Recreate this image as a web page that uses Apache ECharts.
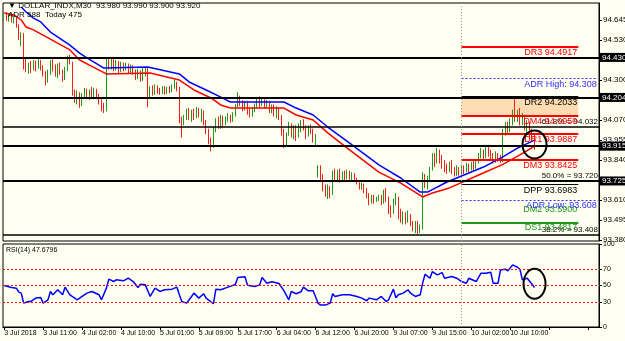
<!DOCTYPE html>
<html>
<head>
<meta charset="utf-8">
<script src="https://cdn.jsdelivr.net/npm/echarts@6/dist/echarts.min.js"></script>
<style>
html, body { margin: 0; padding: 0; background: #fffff2; }
#chart { width: 625px; height: 341px; }
</style>
</head>
<body>
<div id="chart"></div>
<script>
// time axis: one label every 16 bars (M30)
const tickLabels = ['3 Jul 2018', '3 Jul 11:00', '4 Jul 02:00', '4 Jul 10:00', '5 Jul 01:00', '5 Jul 09:00',
    '5 Jul 17:00', '6 Jul 04:00', '6 Jul 12:00', '6 Jul 20:00', '9 Jul 07:00', '9 Jul 15:00', '10 Jul 02:00', '10 Jul 10:00']
const labelEvery = 16
const totalBars = 245
const dayStart = 188
const levelEnd = 236

const priceTicks = [94.645, 94.530, 94.300, 94.070, 93.955, 93.840, 93.610, 93.495, 93.380]
const boxLevels = [94.430, 94.204, 93.915, 93.725]
const fibLevels = [['61.8%', 94.032], ['50.0%', 93.720], ['38.2%', 93.408]]
const pivots = [['DR3', 94.4917], ['DR2', 94.2033], ['DM4', 94.0950], ['DR1', 93.9887],
    ['DM3', 93.8425], ['DPP', 93.6983], ['DM2', 93.5900], ['DS1', 93.4817]]
const adrHigh = 94.308
const adrLow = 93.608
const adrInfo = 'ADR 588  Today 475'
const rsiTicks = [0, 30, 50, 70, 100]
const rsiLevels = [70, 50, 30]
const rsiLast = 47.6796

// [open, close, low, high]
const candles = [
    [94.660, 94.680, 94.650, 94.690], [94.680, 94.650, 94.640, 94.690], [94.650, 94.670, 94.635, 94.680], [94.670, 94.640, 94.630, 94.680],
    [94.640, 94.655, 94.625, 94.665], [94.655, 94.610, 94.600, 94.665], [94.610, 94.540, 94.530, 94.620], [94.540, 94.565, 94.495, 94.575],
    [94.565, 94.380, 94.360, 94.570], [94.380, 94.350, 94.345, 94.430], [94.350, 94.390, 94.335, 94.400], [94.390, 94.370, 94.340, 94.410],
    [94.370, 94.400, 94.355, 94.415], [94.400, 94.380, 94.350, 94.410], [94.380, 94.405, 94.365, 94.420], [94.405, 94.370, 94.355, 94.415],
    [94.370, 94.340, 94.320, 94.385], [94.340, 94.300, 94.270, 94.350], [94.300, 94.340, 94.285, 94.360], [94.340, 94.400, 94.330, 94.415],
    [94.400, 94.370, 94.350, 94.425], [94.370, 94.330, 94.320, 94.390], [94.330, 94.380, 94.310, 94.395], [94.380, 94.340, 94.330, 94.400],
    [94.340, 94.310, 94.290, 94.360], [94.310, 94.360, 94.300, 94.375], [94.360, 94.420, 94.350, 94.440], [94.420, 94.400, 94.390, 94.445],
    [94.400, 94.230, 94.210, 94.405], [94.230, 94.190, 94.170, 94.245], [94.190, 94.220, 94.160, 94.240], [94.220, 94.170, 94.140, 94.230],
    [94.170, 94.210, 94.150, 94.225], [94.210, 94.240, 94.195, 94.255], [94.240, 94.200, 94.190, 94.250], [94.200, 94.230, 94.185, 94.245],
    [94.230, 94.215, 94.195, 94.260], [94.215, 94.245, 94.200, 94.255], [94.245, 94.210, 94.190, 94.250], [94.210, 94.180, 94.160, 94.220],
    [94.180, 94.150, 94.120, 94.190], [94.150, 94.130, 94.110, 94.170], [94.130, 94.400, 94.120, 94.430], [94.400, 94.380, 94.360, 94.425],
    [94.380, 94.410, 94.360, 94.430], [94.410, 94.370, 94.350, 94.420], [94.370, 94.400, 94.355, 94.415], [94.400, 94.360, 94.340, 94.410],
    [94.360, 94.390, 94.345, 94.405], [94.390, 94.370, 94.350, 94.400], [94.370, 94.385, 94.355, 94.400], [94.385, 94.350, 94.335, 94.395],
    [94.350, 94.375, 94.340, 94.390], [94.375, 94.345, 94.330, 94.385], [94.345, 94.320, 94.300, 94.360], [94.320, 94.350, 94.305, 94.365],
    [94.350, 94.310, 94.290, 94.355], [94.310, 94.340, 94.295, 94.370], [94.340, 94.360, 94.320, 94.375], [94.360, 94.230, 94.145, 94.370],
    [94.230, 94.250, 94.200, 94.265], [94.250, 94.225, 94.210, 94.270], [94.225, 94.260, 94.215, 94.275], [94.260, 94.240, 94.220, 94.270],
    [94.240, 94.235, 94.215, 94.255], [94.235, 94.255, 94.220, 94.265], [94.255, 94.230, 94.215, 94.265], [94.230, 94.250, 94.220, 94.260],
    [94.250, 94.240, 94.225, 94.265], [94.240, 94.265, 94.230, 94.275], [94.265, 94.280, 94.250, 94.300], [94.280, 94.250, 94.235, 94.290],
    [94.250, 94.070, 94.050, 94.260], [94.070, 94.050, 93.970, 94.090], [94.050, 94.090, 94.040, 94.100], [94.090, 94.120, 94.070, 94.135],
    [94.120, 94.080, 94.070, 94.140], [94.080, 94.110, 94.060, 94.130], [94.110, 94.090, 94.070, 94.135], [94.090, 94.130, 94.080, 94.145],
    [94.130, 94.100, 94.085, 94.140], [94.100, 94.120, 94.060, 94.135], [94.120, 94.060, 94.040, 94.125], [94.060, 94.010, 93.990, 94.070],
    [94.010, 93.950, 93.930, 94.020], [93.950, 93.920, 93.890, 93.970], [93.920, 94.020, 93.910, 94.030], [94.020, 94.070, 94.000, 94.080],
    [94.070, 94.040, 94.020, 94.090], [94.040, 94.080, 94.020, 94.100], [94.080, 94.050, 94.030, 94.095], [94.050, 94.075, 94.040, 94.090],
    [94.075, 94.090, 94.060, 94.110], [94.090, 94.070, 94.055, 94.100], [94.070, 94.100, 94.060, 94.115], [94.100, 94.150, 94.090, 94.160],
    [94.150, 94.190, 94.140, 94.230], [94.190, 94.170, 94.150, 94.210], [94.170, 94.140, 94.120, 94.185], [94.140, 94.170, 94.125, 94.180],
    [94.170, 94.120, 94.100, 94.180], [94.120, 94.100, 94.085, 94.140], [94.100, 94.130, 94.090, 94.145], [94.130, 94.150, 94.115, 94.165],
    [94.150, 94.190, 94.140, 94.200], [94.190, 94.160, 94.140, 94.205], [94.160, 94.180, 94.150, 94.195], [94.180, 94.150, 94.135, 94.190],
    [94.150, 94.170, 94.140, 94.185], [94.170, 94.130, 94.110, 94.180], [94.130, 94.150, 94.110, 94.160], [94.150, 94.110, 94.090, 94.160],
    [94.110, 94.130, 94.080, 94.150], [94.130, 94.090, 94.070, 94.140], [94.090, 94.000, 93.980, 94.100], [94.000, 93.930, 93.910, 94.020],
    [93.930, 93.990, 93.920, 94.000], [93.990, 94.040, 93.980, 94.060], [94.040, 93.990, 93.970, 94.050], [93.990, 94.030, 93.960, 94.040],
    [94.030, 93.980, 93.950, 94.040], [93.980, 94.020, 93.970, 94.050], [94.020, 94.060, 94.000, 94.070], [94.060, 94.030, 94.010, 94.075],
    [94.030, 93.990, 93.960, 94.040], [93.990, 94.030, 93.975, 94.040], [94.030, 94.000, 93.990, 94.045], [94.000, 93.960, 93.940, 94.020],
    [93.960, 93.980, 93.920, 93.990], [93.780, 93.800, 93.740, 93.810], [93.800, 93.740, 93.720, 93.810], [93.740, 93.690, 93.660, 93.760],
    [93.690, 93.660, 93.630, 93.700], [93.660, 93.680, 93.615, 93.700], [93.680, 93.650, 93.620, 93.690], [93.650, 93.760, 93.640, 93.780],
    [93.760, 93.740, 93.720, 93.790], [93.740, 93.770, 93.720, 93.785], [93.770, 93.730, 93.710, 93.790], [93.730, 93.760, 93.720, 93.775],
    [93.760, 93.745, 93.725, 93.780], [93.745, 93.770, 93.730, 93.785], [93.770, 93.740, 93.725, 93.780], [93.740, 93.755, 93.720, 93.770],
    [93.755, 93.730, 93.715, 93.765], [93.730, 93.720, 93.700, 93.740], [93.720, 93.690, 93.670, 93.725], [93.690, 93.700, 93.670, 93.710],
    [93.700, 93.670, 93.650, 93.705], [93.670, 93.640, 93.620, 93.680], [93.640, 93.600, 93.580, 93.650], [93.600, 93.630, 93.590, 93.640],
    [93.630, 93.610, 93.590, 93.640], [93.610, 93.620, 93.600, 93.630], [93.620, 93.630, 93.605, 93.640], [93.630, 93.600, 93.580, 93.640],
    [93.600, 93.660, 93.590, 93.670], [93.660, 93.620, 93.600, 93.680], [93.620, 93.560, 93.530, 93.630], [93.560, 93.540, 93.510, 93.580],
    [93.540, 93.600, 93.530, 93.620], [93.600, 93.620, 93.580, 93.650], [93.620, 93.540, 93.500, 93.630], [93.540, 93.500, 93.480, 93.560],
    [93.500, 93.530, 93.470, 93.545], [93.530, 93.490, 93.470, 93.540], [93.490, 93.520, 93.480, 93.550], [93.520, 93.480, 93.460, 93.530],
    [93.480, 93.450, 93.430, 93.490], [93.450, 93.480, 93.420, 93.490], [93.480, 93.440, 93.415, 93.490], [93.440, 93.460, 93.420, 93.470],
    [93.460, 93.740, 93.440, 93.770], [93.740, 93.700, 93.680, 93.760], [93.700, 93.730, 93.670, 93.750], [93.730, 93.790, 93.720, 93.800],
    [93.790, 93.860, 93.780, 93.880], [93.860, 93.830, 93.800, 93.880], [93.830, 93.880, 93.820, 93.910], [93.880, 93.850, 93.820, 93.900],
    [93.850, 93.820, 93.790, 93.870], [93.820, 93.800, 93.770, 93.840], [93.800, 93.780, 93.760, 93.820], [93.780, 93.810, 93.770, 93.830],
    [93.810, 93.790, 93.760, 93.840], [93.790, 93.760, 93.745, 93.800], [93.760, 93.790, 93.750, 93.810], [93.790, 93.770, 93.750, 93.800],
    [93.770, 93.800, 93.760, 93.815], [93.800, 93.780, 93.760, 93.810], [93.780, 93.810, 93.770, 93.825], [93.810, 93.790, 93.770, 93.820],
    [93.790, 93.820, 93.780, 93.830], [93.820, 93.800, 93.780, 93.835], [93.800, 93.830, 93.790, 93.840], [93.830, 93.870, 93.820, 93.880],
    [93.870, 93.890, 93.850, 93.910], [93.890, 93.860, 93.840, 93.900], [93.860, 93.900, 93.850, 93.915], [93.900, 93.880, 93.860, 93.920],
    [93.880, 93.860, 93.840, 93.900], [93.860, 93.840, 93.820, 93.880], [93.840, 93.870, 93.825, 93.890], [93.870, 93.850, 93.830, 93.880],
    [93.850, 93.845, 93.825, 93.870], [93.845, 94.000, 93.830, 94.020], [94.000, 94.040, 93.980, 94.060], [94.040, 94.010, 93.990, 94.060],
    [94.010, 94.060, 94.000, 94.080], [94.060, 94.110, 94.040, 94.130], [94.110, 94.080, 94.060, 94.200], [94.080, 94.110, 94.060, 94.130],
    [94.110, 94.060, 94.040, 94.140], [94.060, 94.090, 94.040, 94.110], [94.090, 94.030, 94.010, 94.100], [94.030, 94.050, 93.990, 94.070],
    [94.050, 94.000, 93.960, 94.060], [94.000, 93.980, 93.950, 94.020], [93.980, 93.920, 93.900, 93.990]
]

// moving averages: [bar, price]
const maRed = [[0, 94.685], [4, 94.674], [7, 94.645], [9, 94.605], [12, 94.588], [18, 94.542], [27, 94.473], [31, 94.415],
    [35, 94.386], [42, 94.335], [60, 94.340], [72, 94.300], [78, 94.243], [85, 94.197], [89, 94.157], [93, 94.139],
    [115, 94.139], [120, 94.099], [127, 94.070], [133, 93.996], [141, 93.909], [154, 93.771], [163, 93.708], [172, 93.628],
    [176, 93.651], [183, 93.680], [196, 93.760], [205, 93.815], [212, 93.870], [218, 93.920]]
const maBlue = [[7, 94.720], [9, 94.691], [12, 94.656], [15, 94.634], [19, 94.576], [27, 94.501], [31, 94.455], [34, 94.427],
    [41, 94.369], [59, 94.375], [72, 94.335], [76, 94.289], [83, 94.243], [89, 94.202], [93, 94.174], [115, 94.174],
    [120, 94.139], [127, 94.099], [133, 94.030], [142, 93.938], [154, 93.812], [163, 93.737], [171, 93.656], [174, 93.656],
    [182, 93.714], [197, 93.800], [205, 93.858], [211, 93.909], [218, 93.955]]

const rsi = [[0, 50], [3, 47.6], [5, 46.8], [6, 42], [7, 40.8], [8, 28.8], [10, 30.8], [11, 30.8], [13, 34.8], [15, 35.6],
    [16, 28.8], [18, 32.8], [19, 42.8], [20, 38.8], [22, 44.8], [24, 38.8], [25, 48], [27, 38.8], [29, 34.8], [30, 32.8],
    [32, 36.8], [34, 40.8], [36, 42.8], [39, 38.8], [40, 32.8], [42, 46.8], [43, 57.6], [45, 54.8], [46, 56.8], [49, 55.6],
    [51, 58.8], [53, 54.8], [55, 47.6], [56, 51.6], [58, 50.8], [60, 36.8], [62, 46.8], [64, 42.8], [66, 44.8], [69, 45.6],
    [71, 48], [72, 38.8], [73, 30.8], [75, 28.8], [77, 36.8], [78, 40.8], [80, 34.8], [82, 40], [83, 34.8], [86, 28],
    [87, 45.6], [89, 44.8], [92, 48], [95, 51.2], [96, 59.6], [99, 60.4], [100, 50.4], [103, 48.8], [105, 50.8], [106, 59.6],
    [108, 52.8], [110, 54.4], [113, 52.4], [115, 43.6], [117, 32.8], [118, 42.8], [120, 40], [122, 42.4], [123, 48], [125, 43.6],
    [127, 43.6], [129, 28.8], [130, 26.4], [132, 26.4], [134, 28.8], [135, 40], [136, 36.8], [139, 38.8], [142, 38.8], [145, 36.8],
    [147, 34.8], [149, 31.6], [150, 34.8], [153, 32.8], [155, 36.8], [157, 30.8], [158, 32.8], [160, 45.6], [161, 35.2], [162, 38.8],
    [164, 40.8], [166, 44.8], [167, 40.8], [169, 36.8], [171, 38.8], [172, 52.8], [173, 63.6], [175, 58.8], [176, 66.8], [178, 62.8],
    [180, 65.6], [181, 58.8], [184, 60.8], [186, 58.8], [188, 54.8], [190, 52.8], [191, 58.8], [194, 54.8], [196, 64.8], [198, 64.8],
    [200, 66], [201, 52.8], [203, 52.8], [204, 68.8], [206, 69.6], [207, 67.6], [209, 74.8], [211, 72], [212, 69.6], [213, 56.8],
    [215, 58.8], [218, rsiLast]]

const categories = []
for (let i = 0; i < totalBars; i++) categories.push(String(i))

const FONT = 'Liberation Sans'
const last = candles[candles.length - 1]

const chart = echarts.init(document.getElementById('chart'))

const mainLines = []
boxLevels.forEach(v => mainLines.push({
    yAxis: v,
    lineStyle: { color: '#000', width: 2, type: 'solid' },
    label: { show: true, position: 'end', distance: 1, formatter: v.toFixed(3), color: '#fff',
        backgroundColor: '#000', padding: [1, 2, 0, 2], fontSize: 8, fontFamily: FONT }
}))
fibLevels.forEach(([pct, v]) => mainLines.push({
    yAxis: v,
    lineStyle: { color: '#000', width: pct === '50.0%' ? 2 : 1.5, type: 'solid' },
    label: { show: true, position: 'insideEndTop', distance: 1, formatter: pct + ' = ' + v.toFixed(3),
        color: '#000', fontSize: 8, fontFamily: FONT }
}))
pivots.forEach(([name, v]) => {
    const isRes = name === 'DR3' || name === 'DM4' || name === 'DR1' || name === 'DM3'
    const isSup = name === 'DS1' || name === 'DM2'
    const col = isRes ? '#ff0000' : isSup ? '#1a9a1a' : '#000'
    const lineCol = name === 'DM2' ? 'rgba(0,0,0,0)' : name === 'DR2' ? '#000' : col
    mainLines.push([
        { coord: [dayStart, v],
          lineStyle: { color: lineCol, width: name === 'DPP' ? 1 : 2, type: 'solid' },
          label: { show: true, position: 'insideEndBottom', distance: 1, formatter: name + ' ' + v.toFixed(4),
              color: col, fontSize: 9, fontFamily: FONT } },
        { coord: [levelEnd, v] }
    ])
})
;[['ADR High', adrHigh], ['ADR Low', adrLow]].forEach(([name, v]) => mainLines.push([
    { coord: [dayStart, v],
      lineStyle: { color: '#3030ff', width: 1, type: [2, 2] },
      label: { show: true, position: 'insideEndBottom', distance: 1, formatter: name + ': ' + v.toFixed(3),
          color: '#3030ff', fontSize: 9, fontFamily: FONT } },
    { coord: [totalBars - 1, v] }
]))
mainLines.push({ xAxis: dayStart, lineStyle: { color: '#999', width: 1, type: [1, 2] }, label: { show: false } })

chart.setOption({
    animation: false,
    backgroundColor: '#fffff2',
    grid: [
        { left: 3, right: 26, top: 3, height: 238, show: true, borderColor: '#000', borderWidth: 1,
          backgroundColor: '#fffff2', outerBoundsMode: 'none' },
        { left: 3, right: 26, top: 244, height: 83, show: true, borderColor: '#000', borderWidth: 1,
          backgroundColor: '#fffff2', outerBoundsMode: 'none' }
    ],
    xAxis: [
        { type: 'category', gridIndex: 0, data: categories, boundaryGap: true,
          axisLine: { show: false }, axisTick: { show: false }, axisLabel: { show: false }, splitLine: { show: false } },
        { type: 'category', gridIndex: 1, data: categories, boundaryGap: true,
          axisLine: { show: true, lineStyle: { color: '#000' } },
          axisTick: { show: true, interval: labelEvery - 1, alignWithLabel: true, length: 3, lineStyle: { color: '#000' } },
          axisLabel: { show: true, interval: labelEvery - 1, align: 'left', margin: 3, fontSize: 7, fontFamily: FONT, color: '#000',
              formatter: (val) => tickLabels[Math.round(Number(val) / labelEvery)] || '' },
          splitLine: { show: false } }
    ],
    yAxis: [
        { type: 'value', gridIndex: 0, position: 'right', min: 93.375, max: 94.7427, scale: true,
          axisLine: { show: true, lineStyle: { color: '#000' } },
          axisTick: { show: true, length: 3, customValues: priceTicks, lineStyle: { color: '#000' } },
          axisLabel: { show: true, customValues: priceTicks, margin: 4, fontSize: 8, fontFamily: FONT, color: '#000',
              formatter: v => v.toFixed(3) },
          splitLine: { show: false } },
        { type: 'value', gridIndex: 1, position: 'right', min: 0, max: 100,
          axisLine: { show: true, lineStyle: { color: '#000' } },
          axisTick: { show: true, length: 3, customValues: rsiTicks, lineStyle: { color: '#000' } },
          axisLabel: { show: true, customValues: rsiTicks, margin: 4, fontSize: 7, fontFamily: FONT, color: '#000' },
          splitLine: { show: false } }
    ],
    series: [
        { type: 'candlestick', name: 'DOLLAR_INDX', xAxisIndex: 0, yAxisIndex: 0, data: candles, barWidth: 1, z: 3,
          itemStyle: { color: '#1a9a1a', color0: '#ff1a1a', borderColor: '#1a9a1a', borderColor0: '#ff1a1a', borderWidth: 1 },
          markLine: { silent: true, symbol: ['none', 'none'], animation: false, data: mainLines },
          markArea: { silent: true, itemStyle: { color: '#fcdcb0' },
              data: [[{ coord: [dayStart, 94.2033] }, { coord: [levelEnd, 94.0950] }]] } },
        { type: 'line', name: 'MA red', xAxisIndex: 0, yAxisIndex: 0, data: maRed, showSymbol: false, z: 4,
          lineStyle: { color: '#ff0000', width: 1.5 } },
        { type: 'line', name: 'MA blue', xAxisIndex: 0, yAxisIndex: 0, data: maBlue, showSymbol: false, z: 4,
          lineStyle: { color: '#0000ff', width: 1.5 } },
        { type: 'line', name: 'RSI(14)', xAxisIndex: 1, yAxisIndex: 1, data: rsi, showSymbol: false, z: 4,
          lineStyle: { color: '#0000ff', width: 1.5 },
          markLine: { silent: true, symbol: ['none', 'none'], animation: false, label: { show: false },
              data: rsiLevels.map(v => ({ yAxis: v, lineStyle: { color: '#ff0000', width: 1, type: [2, 2] } }))
                  .concat([{ xAxis: dayStart, lineStyle: { color: '#999', width: 1, type: [1, 2] } }]) } }
    ]
})

// annotation circles placed through the axes
const c1 = chart.convertToPixel({ gridIndex: 0 }, [218, 93.93])
const c2 = chart.convertToPixel({ gridIndex: 1 }, [218, 52])
chart.setOption({
    graphic: [
        { type: 'ellipse', shape: { cx: c1[0], cy: c1[1], rx: 12, ry: 14 }, style: { fill: 'none', stroke: '#000', lineWidth: 2 }, z: 10 },
        { type: 'ellipse', shape: { cx: c2[0], cy: c2[1], rx: 11, ry: 15 }, style: { fill: 'none', stroke: '#000', lineWidth: 2 }, z: 10 },
        { type: 'text', left: 8, top: 2, z: 10,
          style: { text: '\u25BC DOLLAR_INDX,M30  ' + [last[0], last[3], last[2], last[1]].map(v => v.toFixed(3)).join(' '),
              fill: '#000', font: '8px ' + FONT } },
        { type: 'text', left: 8, top: 11, z: 10, style: { text: adrInfo, fill: '#000', font: '8px ' + FONT } },
        { type: 'text', left: 6, top: 247, z: 10, style: { text: 'RSI(14) ' + rsiLast, fill: '#000', font: '7px ' + FONT } }
    ]
})
</script>
</body>
</html>
